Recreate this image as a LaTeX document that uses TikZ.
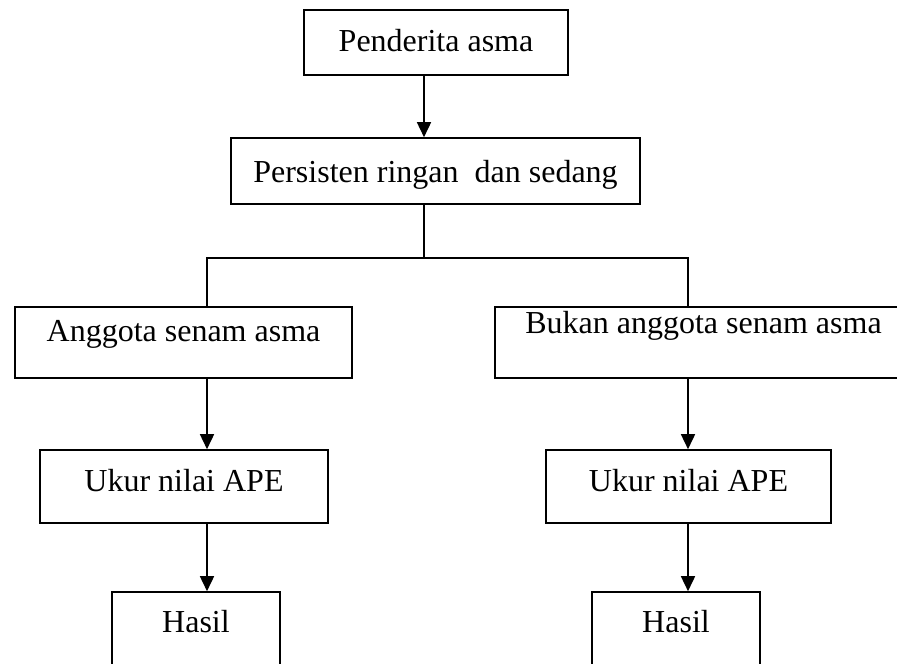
\documentclass[tikz,border=0pt]{standalone}
\usepackage{fontspec}
\setmainfont{Liberation Serif}
\usetikzlibrary{arrows.meta}
\tikzset{
  bx/.style 2 args={draw, line width=0.8pt, inner sep=0pt, text height=#1, text depth=#2,
    font=\fontsize{16}{19}\selectfont},
  conn/.style={line width=0.8pt},
  arr/.style={line width=0.8pt, -{Triangle[width=7pt,length=7.5pt]}}
}
\begin{document}
\begin{tikzpicture}[x=0.5pt,y=-0.5pt]
\useasboundingbox (0,0) rectangle (897,663);
\fill[white] (0,0) rectangle (897,663);
\clip (0,0) rectangle (897,663);
\node[bx={9.5pt}{0pt}, minimum width=132pt, minimum height=32.5pt] (b1) at (436,42.5) {Penderita asma};
\node[bx={12pt}{0pt}, minimum width=204.5pt, minimum height=33pt] (b2) at (435.5,171) {Persisten ringan\ \ dan sedang};
\node[bx={0pt}{1.5pt}, minimum width=168.5pt, minimum height=35.5pt] (b3) at (183.5,342.5) {Anggota senam asma};
\node[bx={0pt}{9.5pt}, minimum width=208.5pt, minimum height=35.5pt] (b4) at (703.5,342.5) {Bukan anggota senam asma};
\node[bx={4.5pt}{0pt}, minimum width=144pt, minimum height=36.5pt] (b5) at (184,486.5) {Ukur nilai APE};
\node[bx={4.5pt}{0pt}, minimum width=142.5pt, minimum height=36.5pt] (b6) at (688.5,486.5) {Ukur nilai APE};
\node[bx={3.5pt}{0pt}, minimum width=84pt, minimum height=36.5pt] (b7) at (196,628.5) {Hasil};
\node[bx={3.5pt}{0pt}, minimum width=84pt, minimum height=36.5pt] (b8) at (676,628.5) {Hasil};
\coordinate (j) at (424,258);
\draw[arr] ([xshift=-6pt]b1.south) -- ([xshift=-6pt]b1.south |- b2.north);
\draw[conn] ([xshift=-5.75pt]b2.south) -- (j);
\draw[conn] ([xshift=11.75pt]b3.north) |- (j) -| ([xshift=-7.75pt]b4.north);
\draw[arr] ([xshift=11.75pt]b3.south) -- ([xshift=11.75pt]b3.south |- b5.north);
\draw[arr] ([xshift=-7.75pt]b4.south) -- ([xshift=-7.75pt]b4.south |- b6.north);
\draw[arr] ([xshift=11.5pt]b5.south) -- ([xshift=11.5pt]b5.south |- b7.north);
\draw[arr] ([xshift=-0.25pt]b6.south) -- ([xshift=-0.25pt]b6.south |- b8.north);
\end{tikzpicture}
\end{document}
